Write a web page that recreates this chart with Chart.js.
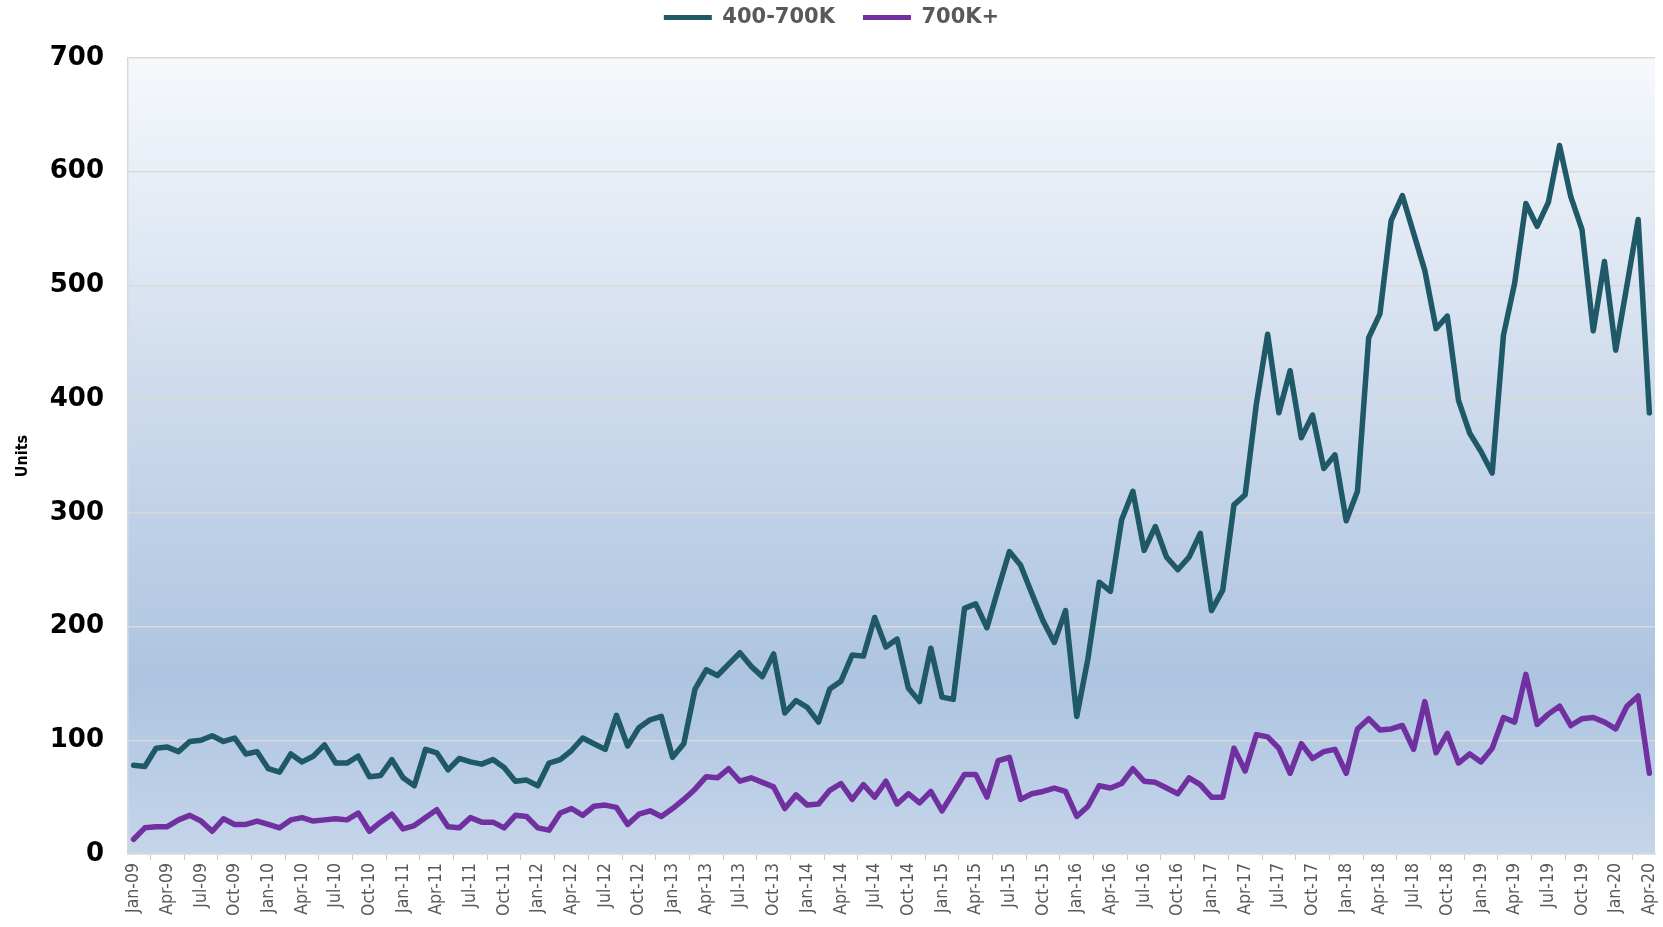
<!DOCTYPE html>
<html>
<head>
<meta charset="utf-8">
<script src="https://cdn.jsdelivr.net/npm/chart.js@4.4.1/dist/chart.umd.min.js"></script>
<style>
  html, body { margin: 0; padding: 0; background: #ffffff; }
  #wrap { width: 1663px; height: 927px; }
</style>
</head>
<body>
<div id="wrap"><canvas id="unitsChart"></canvas></div>
<script>
const monthNames = ['Jan','Feb','Mar','Apr','May','Jun','Jul','Aug','Sep','Oct','Nov','Dec'];
const years = ['09','10','11','12','13','14','15','16','17','18','19','20'];

// Jan-09 .. Apr-20
const labels = [];
years.forEach(y => monthNames.forEach(m => labels.push(m + '-' + y)));
labels.splice(labels.indexOf('Apr-20') + 1);

const mid = [
  78, 77, 93, 94, 90, 99, 100, 104, 99, 102, 88, 90,
  75, 72, 88, 81, 86, 96, 80, 80, 86, 68, 69, 83,
  67, 60, 92, 89, 74, 84, 81, 79, 83, 76, 64, 65,
  60, 80, 83, 91, 102, 97, 92, 122, 95, 111, 118, 121,
  85, 97, 145, 162, 157, 167, 177, 165, 156, 176, 124, 135,
  129, 116, 145, 152, 175, 174, 208, 182, 189, 146, 134, 181,
  138, 136, 216, 220, 199, 233, 266, 254, 229, 205, 186, 214,
  121, 172, 239, 231, 294, 319, 267, 288, 261, 250, 261, 282,
  214, 232, 307, 316, 396, 457, 388, 425, 366, 386, 339, 351,
  293, 319, 454, 475, 557, 579, 546, 513, 462, 473, 399, 370,
  354, 335, 456, 502, 572, 552, 573, 623, 578, 549, 460, 521,
  443, 500, 558, 388
];

const high = [
  13, 23, 24, 24, 30, 34, 29, 20, 31, 26, 26, 29,
  26, 23, 30, 32, 29, 30, 31, 30, 36, 20, 28, 35,
  22, 25, 32, 39, 24, 23, 32, 28, 28, 23, 34, 33,
  23, 21, 36, 40, 34, 42, 43, 41, 26, 35, 38, 33,
  40, 48, 57, 68, 67, 75, 64, 67, 63, 59, 40, 52,
  43, 44, 56, 62, 48, 61, 50, 64, 44, 53, 45, 55,
  38, 54, 70, 70, 50, 82, 85, 48, 53, 55, 58, 55,
  33, 42, 60, 58, 62, 75, 64, 63, 58, 53, 67, 61,
  50, 50, 93, 73, 105, 103, 93, 71, 97, 84, 90, 92,
  71, 110, 119, 109, 110, 113, 92, 134, 89, 106, 80, 88,
  81, 93, 120, 116, 158, 114, 123, 130, 113, 119, 120, 116,
  110, 130, 139, 71
];

const seriesNames = ['400-700K', '700K+'];
const seriesColors = ['#1f5866', '#7030a0'];
const yTicks = [0, 100, 200, 300, 400, 500, 600, 700];

const narrowFont = "'Liberation Sans Narrow', 'DejaVu Sans Condensed', 'Roboto', sans-serif";

const plotBackground = {
  id: 'plotBackground',
  beforeLayout(chart) {
    // keep a fixed band for the legend so the plot starts where the original does
    const lg = chart.legend;
    if (lg && !lg._fixedFit) {
      const fit = lg.fit;
      lg.fit = function () { fit.call(this); this.height = 79; };
      lg._fixedFit = true;
    }
  },
  beforeDraw(chart) {
    const { ctx, chartArea: a } = chart;
    const g = ctx.createLinearGradient(0, a.top, 0, a.bottom);
    g.addColorStop(0, '#f6f9fc');
    g.addColorStop(0.4, '#d0dced');
    g.addColorStop(0.78, '#adc4e0');
    g.addColorStop(1, '#c5d5ea');
    ctx.save();
    ctx.fillStyle = g;
    ctx.fillRect(a.left, a.top, a.right - a.left, a.bottom - a.top);
    ctx.restore();
  }
};

const ctx = document.getElementById('unitsChart').getContext('2d');
new Chart(ctx, {
  type: 'line',
  data: {
    labels,
    datasets: [
      { label: seriesNames[0], data: mid, borderColor: seriesColors[0], backgroundColor: seriesColors[0] },
      { label: seriesNames[1], data: high, borderColor: seriesColors[1], backgroundColor: seriesColors[1] }
    ]
  },
  options: {
    responsive: true,
    maintainAspectRatio: false,
    animation: false,
    layout: { padding: { left: 8, right: 8, top: -21, bottom: 0 } },
    elements: {
      line: { borderWidth: 5.5, tension: 0, borderJoinStyle: 'round', borderCapStyle: 'round' },
      point: { radius: 0, hoverRadius: 0 }
    },
    plugins: {
      tooltip: { enabled: false },
      legend: {
        position: 'top',
        labels: {
          color: '#595959',
          font: { family: 'DejaVu Sans', weight: 'bold', size: 21 },
          boxWidth: 48,
          boxHeight: 5,
          padding: 28,
          generateLabels(chart) {
            return Chart.defaults.plugins.legend.labels.generateLabels(chart)
              .map(item => Object.assign(item, { lineWidth: 0 }));
          }
        }
      }
    },
    scales: {
      x: {
        offset: true,
        afterFit(scale) {
          scale.height = 73;
          scale.paddingRight = 0;
        },
        grid: {
          offset: true,
          drawOnChartArea: false,
          drawTicks: true,
          tickLength: 6,
          color: '#c8c8c8'
        },
        border: { display: true, color: '#d9d9d9', width: 1.5 },
        ticks: {
          autoSkip: false,
          minRotation: 90,
          maxRotation: 90,
          padding: 3,
          color: '#595959',
          font: { family: narrowFont, size: 17.5 },
          callback(value, index) {
            return index % 3 === 0 ? labels[index] : null;
          }
        }
      },
      y: {
        min: yTicks[0],
        max: yTicks[yTicks.length - 1],
        afterFit(scale) { scale.width = 120; },
        afterBuildTicks(scale) { scale.ticks = yTicks.map(v => ({ value: v })); },
        grid: { color: '#d9d9d9', lineWidth: 1.5, drawTicks: false },
        border: { display: true, color: '#d9d9d9', width: 1.5 },
        ticks: {
          padding: 24,
          color: '#000000',
          font: { family: 'DejaVu Sans', weight: 'bold', size: 26 }
        },
        title: {
          display: true,
          text: 'Units',
          color: '#000000',
          padding: { top: 5, bottom: 0 },
          font: { family: narrowFont, weight: 'bold', size: 16 }
        }
      }
    }
  },
  plugins: [plotBackground]
});
</script>
</body>
</html>
